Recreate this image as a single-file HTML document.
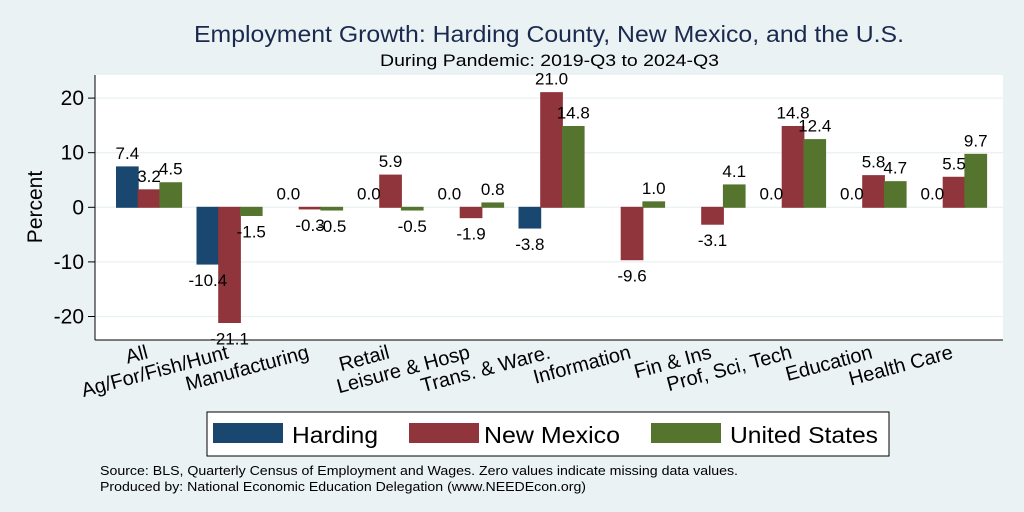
<!DOCTYPE html>
<html><head><meta charset="utf-8"><style>
body{margin:0;background:#eaf2f3;}
svg{display:block;font-family:"Liberation Sans",sans-serif;}
</style></head><body>
<svg id="c" width="1024" height="512">
<rect x="0" y="0" width="1024" height="512" fill="#eaf2f3"/>
<text x="194" y="42" textLength="710" lengthAdjust="spacingAndGlyphs" font-size="23" fill="#1a2a4f">Employment Growth: Harding County, New Mexico, and the U.S.</text>
<text x="380" y="66" textLength="339" lengthAdjust="spacingAndGlyphs" font-size="17" fill="#000">During Pandemic: 2019-Q3 to 2024-Q3</text>
<rect x="95" y="75" width="908" height="265" fill="#fff"/>
<g id="grid"></g><g id="bars"></g><g id="labels"></g><g id="yaxis"></g><g id="xaxis"></g>
<text transform="translate(42,207) rotate(-90)" text-anchor="middle" font-size="21">Percent</text>
<rect x="207" y="412" width="682" height="44" fill="#fff" stroke="#000" stroke-width="1"/>
<g><rect x="213" y="423" width="70" height="20" fill="#1a476f"/><text x="292" y="443" font-size="23" textLength="86" lengthAdjust="spacingAndGlyphs">Harding</text></g>
<g><rect x="409" y="423" width="70" height="20" fill="#90353b"/><text x="484" y="443" font-size="23" textLength="136" lengthAdjust="spacingAndGlyphs">New Mexico</text></g>
<g><rect x="651" y="423" width="70" height="20" fill="#55752f"/><text x="730" y="443" font-size="23" textLength="148" lengthAdjust="spacingAndGlyphs">United States</text></g>
<text x="100" y="475" font-size="13" textLength="638" lengthAdjust="spacingAndGlyphs">Source: BLS, Quarterly Census of Employment and Wages. Zero values indicate missing data values.</text>
<text x="100" y="491" font-size="13" textLength="486" lengthAdjust="spacingAndGlyphs">Produced by: National Economic Education Delegation (www.NEEDEcon.org)</text>
</svg>
<script>
const categories=["All","Ag/For/Fish/Hunt","Manufacturing","Retail","Leisure & Hosp","Trans. & Ware.","Information","Fin & Ins","Prof, Sci, Tech","Education","Health Care"];
const harding=[7.4,-10.4,0.0,0.0,0.0,-3.8,null,null,0.0,0.0,0.0];
const newMexico=[3.2,-21.1,-0.3,5.9,-1.9,21.0,-9.6,-3.1,14.8,5.8,5.5];
const unitedStates=[4.5,-1.5,-0.5,-0.5,0.8,14.8,1.0,4.1,12.4,4.7,9.7];
const yTicks=[-20,-10,0,10,20];
const NS="http://www.w3.org/2000/svg";
function y(v){return 207.3-v*5.46;}
function cx(i){return 149+i*80.5;}
function mk(t,a,p){const e=document.createElementNS(NS,t);for(const k in a)e.setAttribute(k,a[k]);p.appendChild(e);return e;}
const grid=document.getElementById('grid'),bars=document.getElementById('bars'),labels=document.getElementById('labels'),ya=document.getElementById('yaxis'),xa=document.getElementById('xaxis');
const ax=mk('line',{x1:95,y1:75,x2:95,y2:340,stroke:'#000'},ya);


const bx=mk('line',{x1:95,y1:340,x2:1003,y2:340,stroke:'#000'},xa);


yTicks.forEach(t=>{
 const g=mk('line',{x1:95,x2:1003,y1:y(t),y2:y(t),stroke:'#eaf2f3','stroke-width':1.3},grid);
 
 
 mk('line',{x1:88,x2:95,y1:y(t),y2:y(t),stroke:'#000'},ya);
 const tx=mk('text',{x:84,y:y(t)+7,'text-anchor':'end','font-size':21},ya);
 
 
 tx.textContent=t;
});
const series=[[harding,'#1a476f','harding'],[newMexico,'#90353b','new-mexico'],[unitedStates,'#55752f','united-states']];
const bw=21.7;
categories.forEach((c,i)=>{
 series.forEach(([arr,col,nm],s)=>{
  const v=arr[i]; if(v===null)return;
  const x0=cx(i)-32.5+s*bw;
  const r=mk('rect',{x:x0,y:Math.min(y(v),y(0)),width:bw,height:Math.abs(y(v)-y(0)),fill:col,stroke:col},bars);
  
  
  const t=mk('text',{x:x0+bw/2,y:v>=0?y(v)-8:y(v)+22,'text-anchor':'middle','font-size':17},labels);
  
  
  t.textContent=v.toFixed(1);
 });
 const xl=mk('text',{'text-anchor':'end','font-size':20,transform:`translate(${cx(i)},358) rotate(-15)`},xa);
 
 
 xl.textContent=c;
});
</script>
</body></html>
